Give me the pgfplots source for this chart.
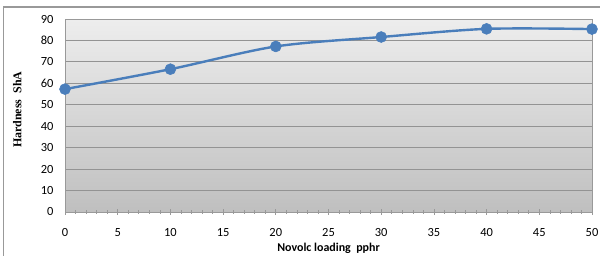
\documentclass[border=0pt]{standalone}
\usepackage{pgfplots}
\pgfplotsset{compat=1.18}
\usepackage{fontspec}
\setmainfont{Carlito}
\newfontfamily\serifb{Liberation Serif}
\definecolor{lineblue}{HTML}{4A7EBB}
\begin{document}
\begin{tikzpicture}
\path[use as bounding box] (0,0) rectangle (600bp,256bp);
\draw[gray!80, line width=1.5bp] (3.5bp,0) -- (3.5bp,249bp) -- (600bp,249bp);
\begin{axis}[
  at={(65bp,44bp)}, anchor=south west,
  scale only axis, width=527bp, height=193bp,
  xmin=0, xmax=50, ymin=0, ymax=90,
  xtick={0,5,...,50}, ytick={0,10,...,90},
  minor x tick num=4,
  ymajorgrids, major grid style={gray!85, line width=0.8bp},
  axis line style={gray!80, line width=0.9bp},
  tick style={gray!80, line width=0.6bp},
  major tick length=5bp, minor tick length=3bp,
  xtick pos=bottom, ytick style={draw=none},
  xtick align=center,
  axis background/.style={top color=black!7, bottom color=black!25},
  tick label style={font=\fontsize{12.5}{13}\selectfont},
  /pgf/number format/assume math mode=true,
  xticklabel style={yshift=-10bp},
  yticklabel style={xshift=-8bp},
  xlabel={\textbf{Novolc loading\ \ pphr}},
  xlabel style={font=\fontsize{12}{13}\selectfont, at={(axis description cs:0.5,0)}, anchor=north, yshift=-28bp},
  ylabel={\serifb\bfseries Hardness\ \ ShA},
  ylabel style={font=\fontsize{12}{13}\selectfont, at={(axis description cs:0,0.53)}, anchor=south, yshift=40bp},
]
\addplot[lineblue, line width=2.4bp, smooth, mark=*, mark size=5.5bp, mark options={fill=lineblue, draw=lineblue, line width=0.5bp}]
  coordinates {(0,57.3) (10,66.6) (20,77.2) (30,81.6) (40,85.4) (50,85.3)};
\end{axis}
\end{tikzpicture}
\end{document}
